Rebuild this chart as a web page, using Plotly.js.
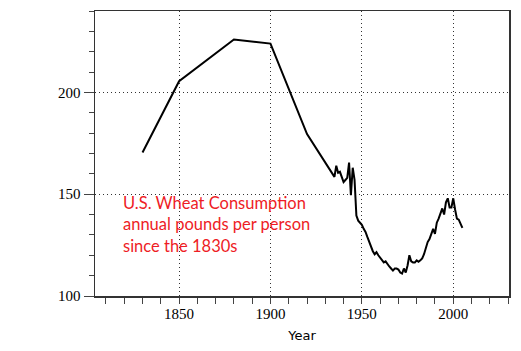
<!DOCTYPE html>
<html>
<head>
<meta charset="utf-8">
<script src="https://cdn.plot.ly/plotly-3.0.1.min.js"></script>
<style>html,body{margin:0;padding:0;background:#fff;}#chart{width:521px;height:351px;}</style>
</head>
<body>
<div id="chart"></div>
<script>
var years = [1830, 1850, 1880, 1900, 1920,
  1935, 1936, 1937, 1938, 1939, 1940, 1941, 1942, 1943, 1944, 1945, 1946, 1947, 1948, 1949,
  1950, 1951, 1952, 1953, 1954, 1955, 1956, 1957, 1958, 1959,
  1960, 1961, 1962, 1963, 1964, 1965, 1966, 1967, 1968, 1969,
  1970, 1971, 1972, 1973, 1974, 1975, 1976, 1977, 1978, 1979,
  1980, 1981, 1982, 1983, 1984, 1985, 1986, 1987, 1988, 1989,
  1990, 1991, 1992, 1993, 1994, 1995, 1996, 1997, 1998, 1999,
  2000, 2001, 2002, 2003, 2004, 2005];
var pounds = [170.5, 205.5, 226, 224, 179.5,
  158.5, 164, 160.5, 161, 158, 156, 157, 158, 165.5, 149.5, 163, 157, 139.5, 137, 136,
  135, 133, 131.5, 129, 126.5, 124, 122, 120.5, 121.5, 120,
  119, 118, 116.5, 117, 115.5, 114.5, 113.5, 112.5, 113.5, 113.5,
  113, 111.5, 111, 113.5, 111.5, 115, 120, 117, 116.5, 116.5,
  117.5, 116.8, 117.5, 118.5, 120.5, 124, 126.5, 128, 130.5, 133,
  130.5, 136, 138, 141, 143, 140, 146, 148, 143.5, 143.5,
  148, 142.5, 138, 137.5, 135, 133.5];
var noteLines = ["U.S. Wheat Consumption", "annual pounds per person", "since the 1830s"];
var xTitle = "Year";

var trace = {
  x: years, y: pounds, type: 'scatter', mode: 'lines',
  line: {color: '#000', width: 2}, hoverinfo: 'skip'
};
var layout = {
  width: 521, height: 351,
  margin: {l: 95, r: 12, t: 11, b: 55},
  paper_bgcolor: '#fff', plot_bgcolor: '#fff',
  showlegend: false,
  xaxis: {
    range: [1804, 2030.5], tick0: 1850, dtick: 50,
    ticks: 'outside', ticklen: 6, tickcolor: '#444', tickwidth: 1,
    ticklabelstandoff: -3,
    minor: {dtick: 10, tick0: 1800, ticks: 'outside', ticklen: 6, tickcolor: '#444', showgrid: false},
    showgrid: true, gridcolor: '#333', griddash: '1px,3px', gridwidth: 1,
    showline: true, linecolor: '#333', linewidth: 1.5, mirror: true,
    zeroline: false,
    tickfont: {family: 'Liberation Serif, Times New Roman, serif', size: 15, color: '#000'},
    title: {text: xTitle, font: {family: 'DejaVu Sans, Verdana, sans-serif', size: 13, color: '#000'}, standoff: 10}
  },
  yaxis: {
    range: [100, 240], tick0: 100, dtick: 50,
    ticks: 'outside', ticklen: 10, tickcolor: '#444', tickwidth: 1,
    minor: {dtick: 10, tick0: 100, ticks: 'outside', ticklen: 5, tickcolor: '#444', showgrid: false},
    showgrid: true, gridcolor: '#333', griddash: '1px,3px', gridwidth: 1,
    showline: true, linecolor: '#333', linewidth: 1.5, mirror: true,
    zeroline: false,
    tickfont: {family: 'Liberation Serif, Times New Roman, serif', size: 15, color: '#000'}
  },
  annotations: [{
    xref: 'paper', yref: 'paper', x: 0.063, y: 0.37, xanchor: 'left', yanchor: 'top',
    align: 'left', showarrow: false,
    text: noteLines.join('<br>'),
    font: {family: 'Lato, Open Sans, sans-serif', size: 16.5, color: '#ee1c25'}
  }]
};
Plotly.newPlot('chart', [trace], layout, {displayModeBar: false, staticPlot: true});
</script>
</body>
</html>
